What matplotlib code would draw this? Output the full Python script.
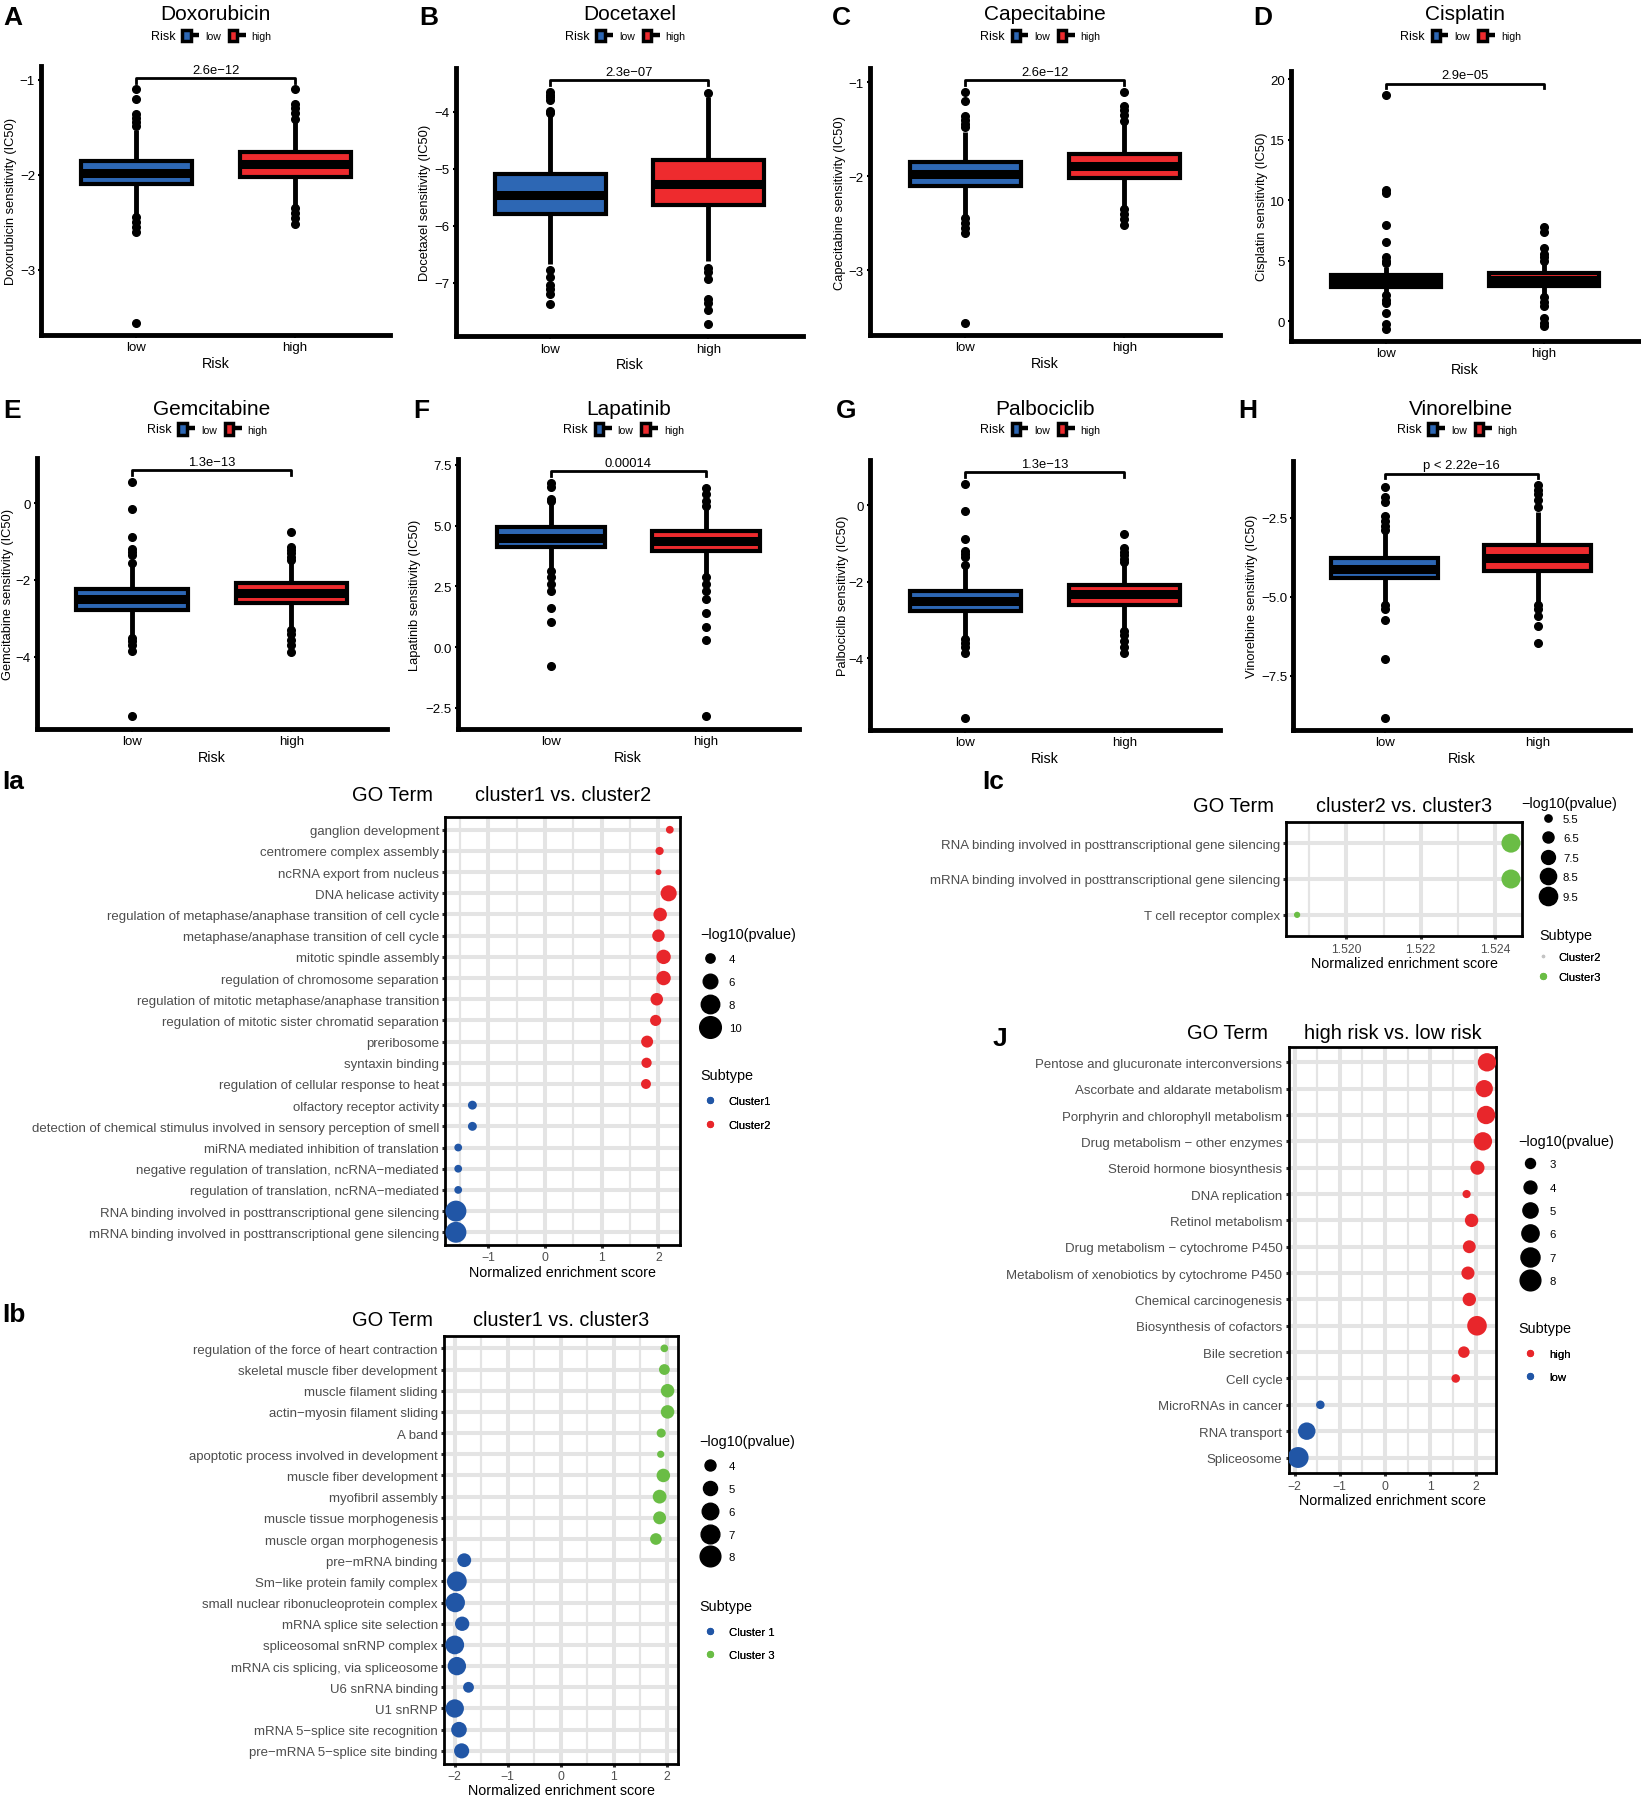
import numpy as np
import matplotlib.pyplot as plt
from matplotlib.patches import Patch
from matplotlib.lines import Line2D
from matplotlib.legend_handler import HandlerTuple
from matplotlib.ticker import MultipleLocator, FuncFormatter

plt.rcParams['font.family'] = ['Liberation Sans', 'DejaVu Sans']

LOW_BLUE = '#2d67b4'
HIGH_RED = '#ee2b2e'
GO_RED = '#e8262b'
GO_BLUE = '#2156a6'
GO_GREEN = '#6abd45'
GO_GREY = '#c4c4c4'
TXT_GREY = '#4d4d4d'
GRID = '#e4e4e4'

# ---------------- drug sensitivity (IC50) by risk group ----------------
drugs = ["Doxorubicin", "Docetaxel", "Capecitabine", "Cisplatin",
         "Gemcitabine", "Lapatinib", "Palbociclib", "Vinorelbine"]
pvals = ["2.6e\u221212", "2.3e\u221207", "2.6e\u221212", "2.9e\u221205",
         "1.3e\u221213", "0.00014", "1.3e\u221213", "p < 2.22e\u221216"]
groups = ["low", "high"]

# whisker low, Q1, median, Q3, whisker high
low_stats = [
    [-2.42, -2.10, -1.98, -1.85, -1.53],
    [-6.66, -5.80, -5.46, -5.09, -4.05],
    [-2.42, -2.10, -1.98, -1.85, -1.53],
    [2.3, 2.85, 3.3, 3.85, 4.5],
    [-3.45, -2.77, -2.50, -2.24, -1.60],
    [3.2, 4.11, 4.48, 4.94, 5.9],
    [-3.45, -2.77, -2.50, -2.24, -1.60],
    [-5.2, -4.40, -4.11, -3.77, -2.9],
]
high_stats = [
    [-2.33, -2.02, -1.89, -1.76, -1.43],
    [-6.62, -5.63, -5.27, -4.84, -3.75],
    [-2.33, -2.02, -1.89, -1.76, -1.43],
    [2.3, 2.95, 3.45, 4.0, 4.8],
    [-3.25, -2.60, -2.33, -2.09, -1.55],
    [3.0, 3.95, 4.35, 4.79, 5.7],
    [-3.25, -2.60, -2.33, -2.09, -1.55],
    [-5.2, -4.17, -3.77, -3.36, -2.3],
]
low_outliers = [
    [-1.10, -1.20, -1.36, -1.40, -1.44, -1.48, -2.44, -2.50, -2.55, -2.60, -3.56],
    [-3.65, -3.70, -3.75, -3.80, -3.98, -4.02, -6.77, -6.89, -7.03, -7.10, -7.20, -7.37],
    [-1.10, -1.20, -1.36, -1.40, -1.44, -1.48, -2.44, -2.50, -2.55, -2.60, -3.56],
    [4.8, 5.0, 5.3, 6.6, 8.0, 10.6, 10.9, 18.7, 2.2, 1.8, 1.5, 0.7, -0.2, -0.6],
    [0.55, -0.15, -0.88, -1.20, -1.28, -1.35, -1.55, -3.50, -3.60, -3.70, -3.85, -5.55],
    [6.0, 6.1, 6.6, 6.75, 3.15, 2.9, 2.6, 2.3, 1.6, 1.05, -0.77],
    [0.55, -0.15, -0.88, -1.20, -1.28, -1.35, -1.55, -3.50, -3.60, -3.70, -3.85, -5.55],
    [-1.51, -1.85, -2.0, -2.45, -2.6, -2.75, -2.87, -5.25, -5.4, -5.72, -6.97, -8.83],
]
high_outliers = [
    [-1.10, -1.25, -1.30, -1.35, -1.41, -2.35, -2.40, -2.45, -2.52],
    [-3.68, -6.73, -6.80, -6.93, -7.28, -7.35, -7.47, -7.72],
    [-1.10, -1.25, -1.30, -1.35, -1.41, -2.35, -2.40, -2.45, -2.52],
    [5.0, 5.3, 5.6, 6.1, 7.4, 7.8, 2.0, 1.6, 1.25, 0.3, -0.1, -0.4],
    [-0.75, -1.13, -1.22, -1.30, -1.40, -1.48, -3.30, -3.40, -3.55, -3.70, -3.87],
    [5.8, 6.0, 6.3, 6.55, 2.9, 2.6, 2.3, 2.0, 1.42, 0.84, 0.29, -2.85],
    [-0.75, -1.13, -1.22, -1.30, -1.40, -1.48, -3.30, -3.40, -3.55, -3.70, -3.87],
    [-1.46, -1.6, -1.75, -1.93, -2.14, -5.25, -5.4, -5.6, -5.93, -6.47],
]
tick_steps = [1, 1, 1, 5, 2, 2.5, 2, 2.5]

# ---------------- GSEA dot plots ----------------
ia_terms = ["ganglion development", "centromere complex assembly", "ncRNA export from nucleus",
            "DNA helicase activity", "regulation of metaphase/anaphase transition of cell cycle",
            "metaphase/anaphase transition of cell cycle", "mitotic spindle assembly",
            "regulation of chromosome separation", "regulation of mitotic metaphase/anaphase transition",
            "regulation of mitotic sister chromatid separation", "preribosome", "syntaxin binding",
            "regulation of cellular response to heat", "olfactory receptor activity",
            "detection of chemical stimulus involved in sensory perception of smell",
            "miRNA mediated inhibition of translation",
            "negative regulation of translation, ncRNA\u2212mediated",
            "regulation of translation, ncRNA\u2212mediated",
            "RNA binding involved in posttranscriptional gene silencing",
            "mRNA binding involved in posttranscriptional gene silencing"]
ia_nes = [2.20, 2.02, 2.00, 2.18, 2.03, 2.00, 2.09, 2.09, 1.97, 1.95, 1.80, 1.79, 1.78,
          -1.28, -1.28, -1.53, -1.53, -1.53, -1.57, -1.57]
ia_logp = [3.6, 3.7, 3.2, 6.7, 5.5, 5.1, 5.9, 5.9, 5.1, 4.6, 4.9, 4.3, 4.2,
           3.9, 3.9, 3.6, 3.6, 3.6, 9.5, 9.5]
ia_group = ["Cluster2"] * 13 + ["Cluster1"] * 7

ib_terms = ["regulation of the force of heart contraction", "skeletal muscle fiber development",
            "muscle filament sliding", "actin\u2212myosin filament sliding", "A band",
            "apoptotic process involved in development", "muscle fiber development",
            "myofibril assembly", "muscle tissue morphogenesis", "muscle organ morphogenesis",
            "pre\u2212mRNA binding", "Sm\u2212like protein family complex",
            "small nuclear ribonucleoprotein complex", "mRNA splice site selection",
            "spliceosomal snRNP complex", "mRNA cis splicing, via spliceosome", "U6 snRNA binding",
            "U1 snRNP", "mRNA 5\u2212splice site recognition", "pre\u2212mRNA 5\u2212splice site binding"]
ib_nes = [1.96, 1.96, 2.02, 2.02, 1.90, 1.89, 1.94, 1.87, 1.87, 1.80,
          -1.82, -1.96, -1.99, -1.86, -2.00, -1.96, -1.74, -2.00, -1.92, -1.87]
ib_logp = [3.2, 3.95, 4.8, 4.8, 3.5, 3.1, 4.8, 4.9, 4.6, 4.2,
           4.9, 7.5, 7.3, 5.1, 7.0, 6.8, 3.95, 6.8, 5.6, 5.4]
ib_group = ["Cluster 3"] * 10 + ["Cluster 1"] * 10

ic_terms = ["RNA binding involved in posttranscriptional gene silencing",
            "mRNA binding involved in posttranscriptional gene silencing",
            "T cell receptor complex"]
ic_nes = [1.52442, 1.52442, 1.51868]
ic_logp = [9.9, 9.9, 5.3]
ic_group = ["Cluster3"] * 3

j_terms = ["Pentose and glucuronate interconversions", "Ascorbate and aldarate metabolism",
           "Porphyrin and chlorophyll metabolism", "Drug metabolism \u2212 other enzymes",
           "Steroid hormone biosynthesis", "DNA replication", "Retinol metabolism",
           "Drug metabolism \u2212 cytochrome P450", "Metabolism of xenobiotics by cytochrome P450",
           "Chemical carcinogenesis", "Biosynthesis of cofactors", "Bile secretion", "Cell cycle",
           "MicroRNAs in cancer", "RNA transport", "Spliceosome"]
j_nes = [2.25, 2.19, 2.23, 2.16, 2.04, 1.80, 1.91, 1.86, 1.83, 1.86, 2.03, 1.74, 1.56,
         -1.43, -1.73, -1.92]
j_logp = [6.6, 6.0, 6.6, 6.6, 4.5, 2.5, 4.2, 4.0, 4.1, 4.2, 7.3, 3.5, 2.6, 2.6, 6.1, 8.1]
j_group = ["high"] * 13 + ["low"] * 3

# ---------------- layout (measured on a 1430 x 1568 grid) ----------------
W, H = 1430.0, 1568.0
PT = 1641 / W * 0.72   # points per grid unit


def fx(x):
    return x / W


def fy(y):
    return 1 - y / H


fig = plt.figure(figsize=(16.41, 17.99), dpi=100)

box_rects = [(36, 58, 340, 293), (397, 60, 700, 294), (758, 60, 1063, 293), (1125, 63, 1428, 298),
             (32, 400, 337, 636), (399, 401, 696, 636), (758, 402, 1063, 637), (1127, 403, 1420, 637)]
ylab_off = [21, 21, 21, 20, 20, 32, 18, 31]
letters = ["A", "B", "C", "D", "E", "F", "G", "H"]
letter_x = [3, 365, 725, 1092, 3, 360, 728, 1079]
row_title_y = [13, 357]
row_legend_y = [32, 375]
row_letter_y = [16, 358]


def fmt_tick(step):
    def f(v, pos):
        s = ('%.1f' % v) if step != int(step) else ('%d' % round(v))
        return s.replace('-', '\u2212')
    return FuncFormatter(f)


for i, drug in enumerate(drugs):
    l, t, r, b = box_rects[i]
    row = i // 4
    ax = fig.add_axes([fx(l), fy(b), fx(r) - fx(l), (b - t) / H])
    stats = []
    for s, out in ((low_stats[i], low_outliers[i]), (high_stats[i], high_outliers[i])):
        stats.append(dict(whislo=s[0], q1=s[1], med=s[2], q3=s[3], whishi=s[4], fliers=out))
    bp = ax.bxp(stats, positions=[1, 2], widths=0.7, patch_artist=True, showcaps=False,
                boxprops=dict(edgecolor='black', linewidth=3.0),
                whiskerprops=dict(color='black', linewidth=3.5, solid_capstyle='butt'),
                medianprops=dict(color='black', linewidth=6.5, solid_capstyle='butt'),
                flierprops=dict(marker='o', markerfacecolor='black', markeredgecolor='black',
                                markersize=5.5))
    for patch, c in zip(bp['boxes'], [LOW_BLUE, HIGH_RED]):
        patch.set_facecolor(c)

    vals = np.concatenate([low_stats[i], high_stats[i], low_outliers[i], high_outliers[i]])
    lo, hi = vals.min(), vals.max()
    yb = hi + 0.05 * (hi - lo)
    tip = 0.02 * (yb - lo)
    ax.plot([1, 1, 2, 2], [yb - tip, yb, yb, yb - tip], color='black', lw=2.0)
    ax.annotate(pvals[i], (1.5, yb), xytext=(0, 1.5), textcoords='offset points',
                ha='center', va='bottom', fontsize=9.4)
    pad = 0.05 * (yb - lo)
    ax.set_ylim(lo - pad, yb + pad)
    ax.set_xlim(0.4, 2.6)
    ax.yaxis.set_major_locator(MultipleLocator(tick_steps[i]))
    ax.yaxis.set_major_formatter(fmt_tick(tick_steps[i]))
    ax.set_xticks([1, 2])
    ax.set_xticklabels(groups)
    for side in ('top', 'right'):
        ax.spines[side].set_visible(False)
    for side in ('left', 'bottom'):
        ax.spines[side].set_linewidth(3.5)
    ax.tick_params(labelsize=9.5, length=2.5, width=1.5, pad=2)
    ax.set_xlabel("Risk", fontsize=10.3, labelpad=2)
    ax.set_ylabel(f"{drug} sensitivity (IC50)", fontsize=9.3)
    ax.yaxis.set_label_coords(-ylab_off[i] / (r - l), 0.5)

    cx = (l + r) / 2
    fig.text(fx(cx), fy(row_title_y[row]), drug, ha='center', va='center', fontsize=15)
    fig.text(fx(cx - 35), fy(row_legend_y[row]), "Risk", ha='right', va='center', fontsize=9)
    handles = [(Patch(facecolor=c, edgecolor='black', linewidth=2.5),
                Line2D([], [], color='black', lw=3.2, solid_capstyle='butt'))
               for c in (LOW_BLUE, HIGH_RED)]
    ax.legend(handles, groups, ncol=2, loc='center left',
              bbox_to_anchor=(fx(cx - 29), fy(row_legend_y[row])), bbox_transform=fig.transFigure,
              frameon=False, fontsize=7.6, handlelength=1.6, handleheight=1.3,
              handletextpad=0.55, columnspacing=0.75, borderpad=0, borderaxespad=0,
              handler_map={tuple: HandlerTuple(ndivide=None)})
    fig.text(fx(letter_x[i]), fy(row_letter_y[row]), letters[i], ha='left', va='center',
             fontsize=19, fontweight='bold')


def key_legend(ax, handles, labels, title, title_xy, key_x, text_x, y_first, y_last):
    fs = 8.2
    hl = 1.6
    half = hl * fs / 2 / PT
    n = len(labels)
    pitch = (y_last - y_first) / (n - 1)
    pad = (text_x - key_x - half) * PT / fs
    ls = (pitch * PT - 7.07) / fs
    fig.text(fx(title_xy[0]), fy(title_xy[1]), title, ha='left', va='center', fontsize=10.4)
    leg = ax.legend(handles, labels, loc='center left',
                    bbox_to_anchor=(fx(key_x - half), fy((y_first + y_last) / 2)),
                    bbox_transform=fig.transFigure, frameon=False, fontsize=fs,
                    handlelength=hl, handletextpad=pad, labelspacing=ls,
                    borderpad=0, borderaxespad=0)
    ax.add_artist(leg)


def go_panel(rect, terms, nes, logp, grp, palette, size_ab, major, minor, fmt, title,
             go_x, title_y, letter, letter_xy, size_breaks, size_leg, sub_leg, sub_levels, sub_sizes):
    l, t, r, b = rect
    ax = fig.add_axes([fx(l), fy(b), fx(r) - fx(l), (b - t) / H])
    n = len(terms)
    ypos = np.arange(n, 0, -1)
    a, k = size_ab
    diam = np.sqrt(np.clip(a + k * np.array(logp), 4, None))
    ax.scatter(nes, ypos, s=(diam * 0.72) ** 2, c=[palette[g] for g in grp],
               linewidths=0, zorder=3)
    ax.set_yticks(ypos)
    ax.set_yticklabels(terms)
    ax.set_ylim(0.4, n + 0.6)
    span = max(nes) - min(nes)
    ax.set_xlim(min(nes) - 0.05 * span, max(nes) + 0.05 * span)
    ax.xaxis.set_major_locator(MultipleLocator(major))
    ax.xaxis.set_minor_locator(MultipleLocator(minor))
    ax.xaxis.set_major_formatter(fmt)
    ax.grid(which='major', color=GRID, lw=2.9)
    ax.grid(which='minor', axis='x', color=GRID, lw=1.6)
    ax.set_axisbelow(True)
    for sp in ax.spines.values():
        sp.set_linewidth(2.0)
    ax.tick_params(axis='both', length=2.5, width=2.2, color='#333333', labelsize=8.8,
                   labelcolor=TXT_GREY, pad=2)
    ax.tick_params(axis='y', labelsize=9.5)
    ax.tick_params(which='minor', length=0)
    ax.set_xlabel("Normalized enrichment score", fontsize=10.3, labelpad=1)

    cx = (l + r) / 2
    fig.text(fx(cx), fy(title_y), title, ha='center', va='center', fontsize=14.3)
    fig.text(fx(go_x), fy(title_y), "GO Term", ha='right', va='center', fontsize=14.4)
    fig.text(fx(letter_xy[0]), fy(letter_xy[1]), letter, ha='left', va='center',
             fontsize=19, fontweight='bold')

    size_handles = [Line2D([], [], ls='', marker='o', color='black',
                           markersize=np.sqrt(a + k * v) * 0.72) for v in size_breaks]
    key_legend(ax, size_handles, [f"{v:g}" for v in size_breaks], "\u2212log10(pvalue)", *size_leg)
    sub_handles = [Line2D([], [], ls='', marker='o', color=palette[g], markeredgewidth=0,
                          markersize=ms) for g, ms in zip(sub_levels, sub_sizes)]
    key_legend(ax, sub_handles, sub_levels, "Subtype", *sub_leg)
    return ax


int_fmt = FuncFormatter(lambda v, p: ('%d' % round(v)).replace('-', '\u2212'))
ic_fmt = FuncFormatter(lambda v, p: '%.3f' % v)

go_panel((388, 713, 593, 1086), ia_terms, ia_nes, ia_logp, ia_group,
         {"Cluster1": GO_BLUE, "Cluster2": GO_RED}, (-170, 64), 1, 0.5, int_fmt,
         "cluster1 vs. cluster2", 377, 693, "Ia", (2, 682), [4, 6, 8, 10],
         ((610, 815), 619, 635, 837, 897), ((610, 938), 619, 635, 961, 981),
         ["Cluster1", "Cluster2"], [5.2, 5.2])

go_panel((387, 1165, 591, 1538), ib_terms, ib_nes, ib_logp, ib_group,
         {"Cluster 1": GO_BLUE, "Cluster 3": GO_GREEN}, (-187, 77), 1, 0.5, int_fmt,
         "cluster1 vs. cluster3", 377, 1151, "Ib", (2, 1146), [4, 5, 6, 7, 8],
         ((609, 1257), 619, 635, 1279, 1358), ((609, 1401), 619, 635, 1423, 1443),
         ["Cluster 1", "Cluster 3"], [5.2, 5.2])

go_panel((1121, 717, 1326, 817), ic_terms, ic_nes, ic_logp, ic_group,
         {"Cluster2": GO_GREY, "Cluster3": GO_GREEN}, (-332, 70), 0.002, 0.001, ic_fmt,
         "cluster2 vs. cluster3", 1110, 703, "Ic", (856, 682), [5.5, 6.5, 7.5, 8.5, 9.5],
         ((1326, 701), 1349, 1362, 715, 782), ((1341, 816), 1345, 1358, 835, 852),
         ["Cluster2", "Cluster3"], [2.5, 5.2])

go_panel((1123, 913, 1304, 1285), j_terms, j_nes, j_logp, j_group,
         {"high": GO_RED, "low": GO_BLUE}, (-98, 66), 1, 0.5, int_fmt,
         "high risk vs. low risk", 1105, 901, "J", (865, 906), [3, 4, 5, 6, 7, 8],
         ((1323, 995), 1333, 1350, 1016, 1117), ((1323, 1158), 1333, 1350, 1181, 1201),
         ["high", "low"], [5.2, 5.2])

fig.savefig("out.png", dpi=100)
